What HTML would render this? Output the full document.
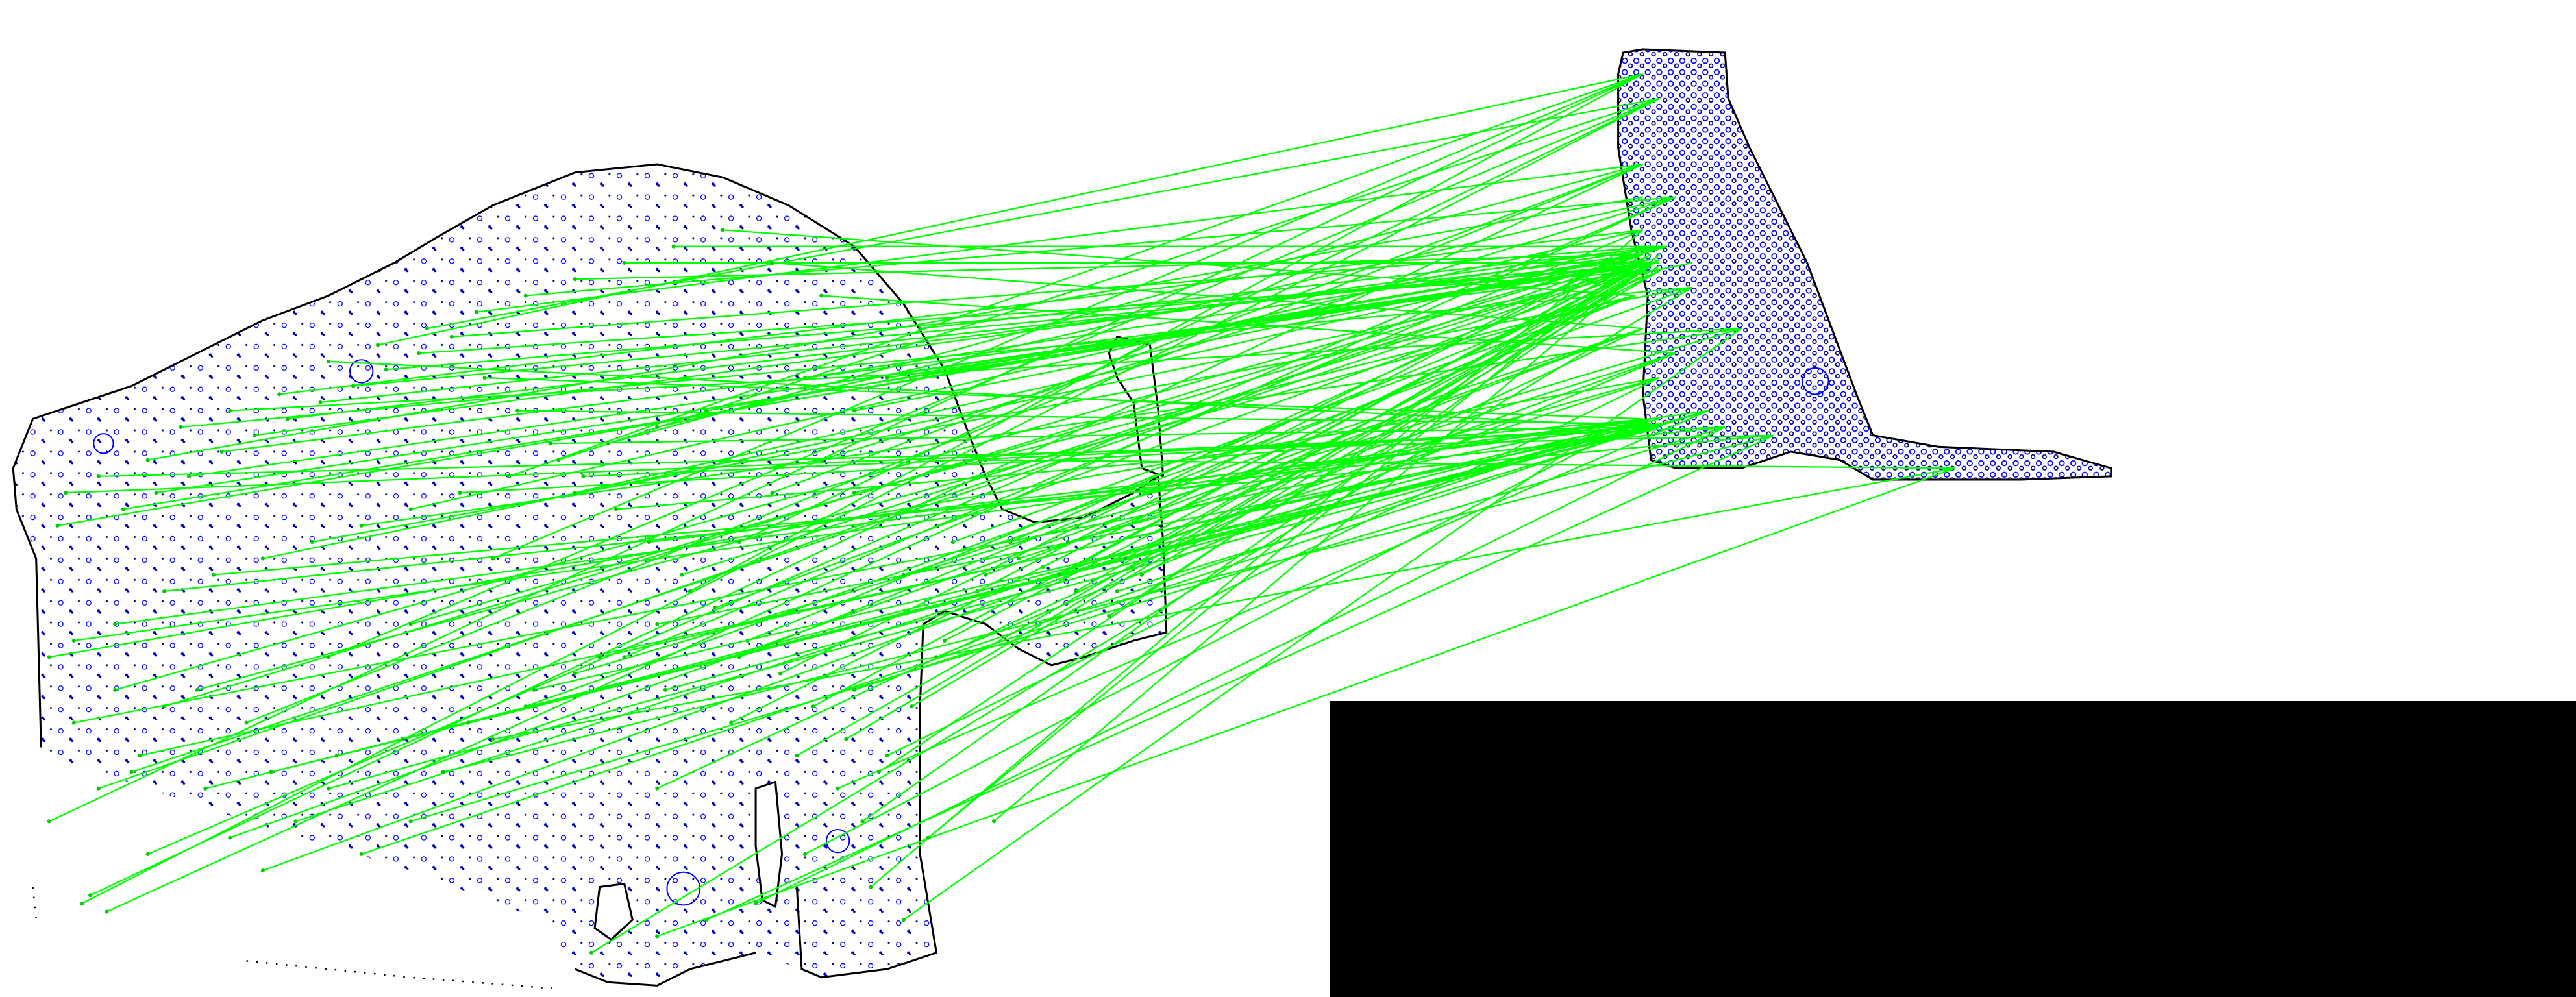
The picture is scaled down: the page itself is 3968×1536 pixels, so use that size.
<!DOCTYPE html>
<html>
<head>
<meta charset="utf-8">
<style>
html,body{margin:0;padding:0;background:#fff;}
svg{display:block;}
</style>
</head>
<body>
<svg id="chart" width="3968" height="1536" viewBox="0 0 3968 1536" xmlns="http://www.w3.org/2000/svg">
  <defs>
    <pattern id="kpA" width="17" height="13" patternUnits="userSpaceOnUse">
      <circle cx="3" cy="3" r="1.4" fill="none" stroke="#0000ff" stroke-width="0.5"/>
      <circle cx="9" cy="8" r="0.9" fill="#0000cc"/>
      <circle cx="10" cy="9" r="0.7" fill="#000080"/>
      <circle cx="14" cy="2" r="0.6" fill="#000080"/>
    </pattern>
    <pattern id="kpB" width="7" height="7" patternUnits="userSpaceOnUse">
      <circle cx="2" cy="2" r="1.5" fill="none" stroke="#0000ff" stroke-width="0.7"/>
      <circle cx="5.5" cy="5" r="1.1" fill="none" stroke="#000090" stroke-width="0.7"/>
    </pattern>
  </defs>
  <rect x="0" y="0" width="3968" height="1536" fill="#fff"/>
  <rect x="2048" y="1080" width="1920" height="456" fill="#000"/>
  <g id="scene" transform="scale(2.5306)">
    <path fill="url(#kpA)" stroke="none"
      d="M25,455 L22,340 L10,310 L8,285 L20,255 L50,245 L80,235 L120,215 L160,195 L200,180 L240,160 L265,145 L300,125 L350,105 L400,100 L440,108 L480,125 L520,150 L550,185 L575,225 L590,265 L600,290 L610,310 L630,318 L660,315 L690,300 L705,290 L708,330 L710,385 L690,390 L660,400 L640,405 L620,395 L600,380 L575,372 L562,380 L560,430 L560,520 L570,580 L540,590 L500,595 L488,590 L460,580 L420,590 L400,600 L370,598 L350,590 L330,560 L250,530 L150,500 L60,470 L30,460 Z"/>
    <path fill="none" stroke="#000" stroke-width="1.2"
      d="M25,455 L22,340 L10,310 L8,285 L20,255 L50,245 L80,235 L120,215 L160,195 L200,180 L240,160 L265,145 L300,125 L350,105 L400,100 L440,108 L480,125 L520,150 L550,185 L575,225 L590,265 L600,290 L610,310 L630,318 L660,315 L690,300 L705,290 L708,330 L710,385 L690,390 L660,400 L640,405 L620,395 L600,380 L575,372 L562,380 L560,430 L560,520 L570,580 L540,590 L500,595 L488,590 L485,540 M460,580 L420,590 L400,600 L370,598 L350,590"/>
    <path fill="none" stroke="#000" stroke-width="1" stroke-dasharray="1,5"
      d="M20,540 L22,560 M150,585 L250,595 L340,602"/>
    <path fill="none" stroke="#000" stroke-width="1.2"
      d="M680,205 L700,210 L705,250 L708,290 L695,285 L690,245 L680,230 L675,215 Z"/>
    <path fill="#fff" stroke="#000" stroke-width="1.2"
      d="M365,540 L380,538 L385,560 L372,572 L362,565 Z"/>
    <path fill="#fff" stroke="#000" stroke-width="1.2"
      d="M460,480 L472,476 L476,520 L472,552 L464,548 L460,515 Z"/>
    <path fill="url(#kpB)" stroke="none"
      d="M988,32 L1000,30 L1050,32 L1052,60 L1065,90 L1080,120 L1100,160 L1115,200 L1130,240 L1140,265 L1180,272 L1250,275 L1285,285 L1285,290 L1230,292 L1140,292 L1120,280 L1090,275 L1060,285 L1020,285 L1005,280 L1000,240 L1003,180 L993,140 L985,90 L985,45 Z"/>
    <path fill="none" stroke="#000" stroke-width="1.2"
      d="M988,32 L1000,30 L1050,32 L1052,60 L1065,90 L1080,120 L1100,160 L1115,200 L1130,240 L1140,265 L1180,272 L1250,275 L1285,285 L1285,290 L1230,292 L1140,292 L1120,280 L1090,275 L1060,285 L1020,285 L1005,280 L1000,240 L1003,180 L993,140 L985,90 L985,45 Z"/>
    <circle cx="416" cy="541" r="10" fill="none" stroke="#0000ff" stroke-width="0.8"/>
    <circle cx="220" cy="226" r="7" fill="none" stroke="#0000ff" stroke-width="0.8"/>
    <circle cx="510" cy="512" r="7" fill="none" stroke="#0000ff" stroke-width="0.8"/>
    <circle cx="63" cy="270" r="6" fill="none" stroke="#0000ff" stroke-width="0.8"/>
    <circle cx="1105" cy="232" r="8" fill="none" stroke="#0000ff" stroke-width="0.8"/>
    <g id="matches"></g>
  </g>
</svg>
<script>
const srcX = [30,50,55,65,60,80,100,120,140,160,180,200,220,250,270,300,320,350,380,400,420,450,470,500,520,540,560,580,600,620,650,680,700,40,60,90,110,140,170,200,230,260,290,320,350,380,410,440,470,500,30,45,70,100,130,160,190,220,250,280,310,340,370,400,430,460,490,520,550,570,540,510,490,460,430,400,360,550,530,520,300,200,150,90,70,250,350,450,400,600,
  35,75,95,115,135,155,175,195,215,235,255,275,295,315,335,355,375,395,415,435,455,475,495,515,535,555,575,595,615,635,655,675,695,45,85,125,165,205,245,285,325,365,405,445,485,525,565,605,645,685];
const srcY = [500,550,545,555,480,470,430,420,510,530,500,480,520,500,470,450,430,410,400,380,360,330,300,280,250,230,200,330,350,340,330,360,300,300,290,280,260,250,240,220,210,200,190,180,170,160,150,140,160,180,400,390,380,360,350,340,330,320,310,300,290,280,270,260,250,240,230,300,350,400,460,480,520,550,560,570,580,560,540,420,340,400,440,520,420,380,300,400,480,280,
  320,310,300,290,275,265,255,245,235,225,215,205,230,250,270,290,310,330,350,370,390,410,430,450,470,430,390,360,330,345,360,375,350,440,460,480,470,460,450,440,420,400,420,440,460,500,510,500,350,340];
const dstX = [1000,1010,1000,1020,1000,1005,1015,995,1000,1020,1010,1040,1000,1050,1080,1190,1030,1060,1000,1005,1000,1010,1000,1020,1000,1005,1015,995,1000,1020,1010,1040,1000,1050,1080,1000,1030,1060,1000,1005,1000,1010,1000,1020,1000,1005,1015,995,1000,1020,1010,1040,1000,1050,1080,1030,1030,1060,1000,1005,1000,1010,1000,1020,1000,1005,1015,995,1000,1020,1010,1040,1000,1050,1080,1190,1030,1060,1000,1005,1000,1010,1000,1020,1000,1005,1015,995,1000,1190,
  1000,1005,1010,1000,1005,1010,1000,1005,1010,1000,1005,1010,1000,1005,1010,1000,1005,1010,1000,1005,1010,1000,1005,1010,1000,1005,1010,1000,1005,1010,1000,1005,1010,1000,1005,1010,1000,1005,1010,1000,1005,1010,1000,1005,1010,1000,1005,1010,1000,1005];
const dstY = [45,60,100,120,155,160,150,180,200,215,230,250,255,260,265,285,175,200,140,260,45,60,100,120,155,160,150,180,200,215,230,250,255,260,265,120,175,200,140,260,45,60,100,120,155,160,150,180,200,215,230,250,255,260,265,160,175,200,140,260,45,60,100,120,155,160,150,180,200,215,230,250,255,260,265,285,175,200,140,260,45,60,100,120,155,160,150,180,200,285,
  155,158,160,162,165,150,155,158,160,162,165,150,255,258,260,262,255,258,160,162,165,150,155,158,160,162,165,150,155,158,160,162,165,255,258,260,262,255,258,260,262,255,258,160,162,165,150,155,158,160];
const g = document.getElementById('matches');
const NS = 'http://www.w3.org/2000/svg';
for (let i = 0; i < srcX.length; i++) {
  const ln = document.createElementNS(NS, 'line');
  ln.setAttribute('x1', srcX[i]);
  ln.setAttribute('y1', srcY[i]);
  ln.setAttribute('x2', dstX[i]);
  ln.setAttribute('y2', dstY[i]);
  ln.setAttribute('stroke', '#00ff00');
  ln.setAttribute('stroke-width', '0.9');
  
  
  g.appendChild(ln);
  const d = document.createElementNS(NS, 'circle');
  d.setAttribute('cx', srcX[i]);
  d.setAttribute('cy', srcY[i]);
  d.setAttribute('r', '1.2');
  d.setAttribute('fill', '#00cc00');
  
  
  g.appendChild(d);
}
</script>
</body>
</html>
